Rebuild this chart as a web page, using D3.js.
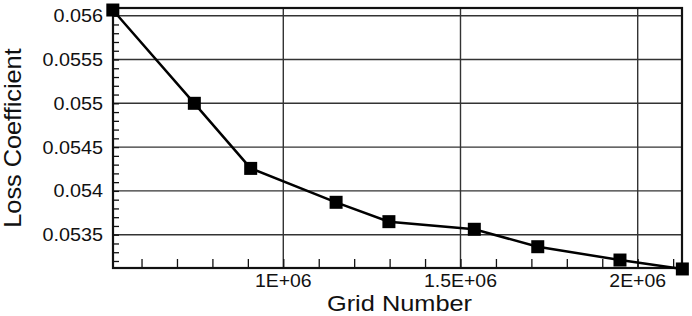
<!DOCTYPE html>
<html>
<head>
<meta charset="utf-8">
<script src="https://cdn.jsdelivr.net/npm/d3@7"></script>
<style>
  body { margin: 0; background: #fff; }
  text { font-family: "Liberation Sans", Arial, sans-serif; fill: #111; }
</style>
</head>
<body>
<div id="chart"></div>
<script>
// grid sizes and the loss coefficient
var gridNumber = [519000, 749000, 908000, 1149000, 1298000, 1539000, 1718000, 1950000, 2126000];
var lossCoef = [0.056065, 0.055, 0.054257, 0.05387, 0.053649, 0.053562, 0.053363, 0.053211, 0.053109];

var xTicks = [1000000, 1500000, 2000000];
var xTickLabels = ['1E+06', '1.5E+06', '2E+06'];
var yTicks = [0.0535, 0.054, 0.0545, 0.055, 0.0555, 0.056];
var yTickLabels = ['0.0535', '0.054', '0.0545', '0.055', '0.0555', '0.056'];

var width = 692, height = 316;
var plotL = 113, plotR = 682, plotT = 8, plotB = 268;

var svg = d3.select('#chart').append('svg')
    .attr('width', width)
    .attr('height', height);

var x = d3.scaleLinear().domain([519500, 2125000]).range([plotL, plotR]);
var y = d3.scaleLinear().domain([0.05312, 0.056088]).range([plotB, plotT]);

// grid lines
var grid = svg.append('g');
grid.selectAll('.gx').data(xTicks).join('line')
    .attr('class', 'gx')
    .attr('x1', d => x(d)).attr('x2', d => x(d))
    .attr('y1', plotT).attr('y2', plotB)
    .style('stroke', '#333').style('stroke-width', 1.4);
grid.selectAll('.gy').data(yTicks).join('line')
    .attr('class', 'gy')
    .attr('y1', d => y(d)).attr('y2', d => y(d))
    .attr('x1', plotL).attr('x2', plotR)
    .style('stroke', '#333').style('stroke-width', 1.4);

// axes, ticks pointing into the plot
var minorX = d3.range(600000, 2125000, 100000);
var minorY = d3.range(0.0532, 0.05605, 0.0001);

var xAxis = svg.append('g')
    .attr('transform', `translate(0,${plotB})`)
    .call(d3.axisTop(x).tickValues(minorX).tickSize(9).tickFormat(''));
xAxis.select('.domain').remove();
xAxis.selectAll('line').style('stroke', '#111').style('stroke-width', 1.3);

var yAxis = svg.append('g')
    .attr('transform', `translate(${plotL},0)`)
    .call(d3.axisRight(y).tickValues(minorY).tickSize(6).tickFormat(''));
yAxis.select('.domain').remove();
yAxis.selectAll('line').style('stroke', '#111').style('stroke-width', 1.3);

// tick labels (the original lettering is a bit wide, so stretch it)
svg.append('g').selectAll('text').data(xTicks).join('text')
    .attr('transform', d => `translate(${x(d)},287) scale(1.08,1)`)
    .style('text-anchor', 'middle')
    .style('font-size', '18px')
    .text((d, i) => xTickLabels[i]);

svg.append('g').selectAll('text').data(yTicks).join('text')
    .attr('transform', d => `translate(103,${y(d) + 6.4}) scale(1.1,1)`)
    .style('text-anchor', 'end')
    .style('font-size', '18px')
    .text((d, i) => yTickLabels[i]);

// frame
svg.append('rect')
    .attr('x', plotL).attr('y', plotT)
    .attr('width', plotR - plotL).attr('height', plotB - plotT)
    .style('fill', 'none').style('stroke', '#111').style('stroke-width', 2.2);

// axis titles
svg.append('text')
    .attr('transform', 'translate(399.5,311) scale(1.18,1)')
    .style('text-anchor', 'middle')
    .style('font-size', '21.5px')
    .text('Grid Number');

svg.append('text')
    .attr('transform', 'translate(20.5,138) rotate(-90) scale(1.1,1)')
    .style('text-anchor', 'middle')
    .style('font-size', '23px')
    .text('Loss Coefficient');

// series
var pts = gridNumber.map((g, i) => [x(g), y(lossCoef[i])]);
svg.append('path')
    .attr('d', d3.line()(pts))
    .style('fill', 'none')
    .style('stroke', '#000')
    .style('stroke-width', 2.5);

svg.append('g').selectAll('rect').data(pts).join('rect')
    .attr('x', d => d[0] - 6.5)
    .attr('y', d => d[1] - 6.5)
    .attr('width', 13).attr('height', 13)
    .style('fill', '#000');
</script>
</body>
</html>
